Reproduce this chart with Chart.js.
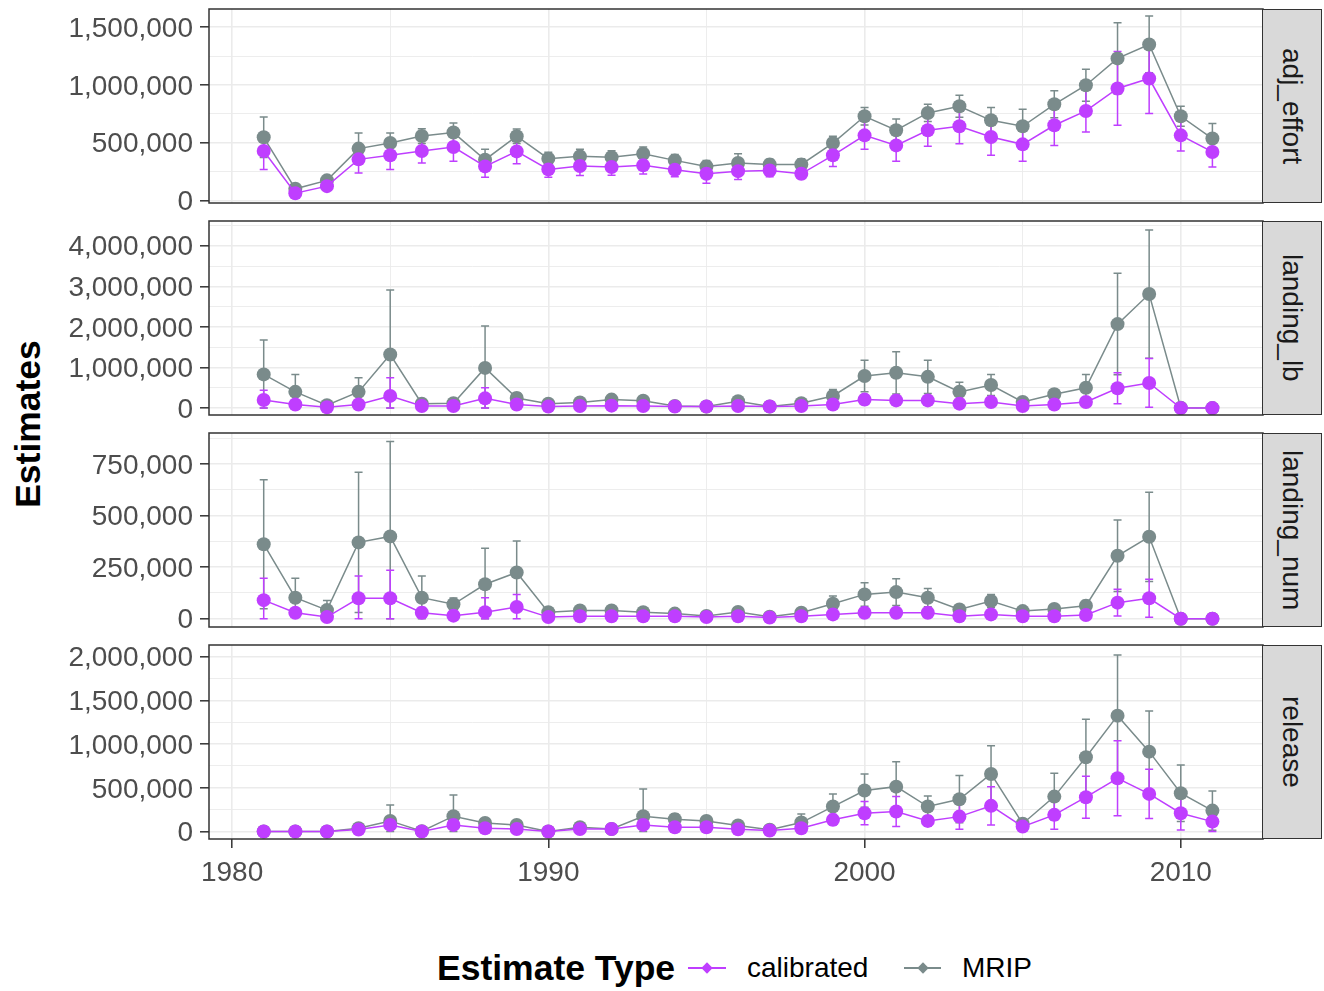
<!DOCTYPE html>
<html>
<head>
<meta charset="utf-8">
<script src="https://cdn.jsdelivr.net/npm/chart.js@4.4.1/dist/chart.umd.min.js"></script>
<style>
  body { margin: 0; background: #fff; font-family: "Liberation Sans", Arial, sans-serif; }
  #wrap { position: relative; width: 1324px; height: 991px; overflow: hidden; background: #fff; }
  canvas.panel { position: absolute; left: 0; }
  .strip { position: absolute; left: 1262px; width: 60px; box-sizing: border-box; background: #d9d9d9;
           border: 1.5px solid #333; display: flex; align-items: center; justify-content: center; }
  .strip span { writing-mode: vertical-rl; font-size: 28px; color: #1a1a1a; }
  #ytitle { position: absolute; left: 28px; top: 424px; transform: translate(-50%, -50%) rotate(-90deg);
            font-size: 35.5px; font-weight: bold; white-space: nowrap; color: #000; }
  .leg { position: absolute; top: 968px; transform: translateY(-50%); white-space: nowrap; }
  .legtitle { font-size: 35.5px; font-weight: bold; color: #000; }
  .leglabel { font-size: 28px; color: #000; }
  .key { position: absolute; top: 968px; height: 1.5px; margin-top: -1px; }
  .key i { position: absolute; left: 50%; top: 50%; width: 8px; height: 8px; margin: -4px 0 0 -4px; transform: rotate(45deg); }
</style>
</head>
<body>
<div id="wrap">
  <div id="ytitle">Estimates</div>
  <div class="leg legtitle" style="left:437px">Estimate Type</div>
  <div class="key" style="left:688px;width:38px;background:#bf3eff"><i style="background:#bf3eff"></i></div>
  <div class="leg leglabel" style="left:747px">calibrated</div>
  <div class="key" style="left:904px;width:37px;background:#7a8b8b"><i style="background:#7a8b8b"></i></div>
  <div class="leg leglabel" style="left:962px">MRIP</div>
</div>
<script>
// years on the x axis
const years = [1981, 1982, 1983, 1984, 1985, 1986, 1987, 1988, 1989, 1990, 1991, 1992, 1993, 1994, 1995, 1996,
  1997, 1998, 1999, 2000, 2001, 2002, 2003, 2004, 2005, 2006, 2007, 2008, 2009, 2010, 2011];
const xTicks = [1980, 1985, 1990, 1995, 2000, 2005, 2010];
const xLabelTicks = [1980, 1990, 2000, 2010];

//adj_effort
const effortMrip = [547000, 101000, 174000, 449000, 497000, 558000, 588000, 353000, 556000, 362000, 382000, 375000,
  405000, 347000, 295000, 324000, 312000, 312000, 497000, 729000, 608000, 758000, 816000, 694000, 642000, 833000,
  998000, 1230000, 1351000, 729000, 536000];
const effortMripErr = [175000, 15000, 20000, 135000, 87000, 64000, 83000, 90000, 63000, 55000, 61000, 55000, 58000,
  50000, 50000, 81000, 45000, 50000, 59000, 76000, 98000, 75000, 95000, 111000, 148000, 116000, 139000, 309000,
  246000, 87000, 130000];
const effortCal = [428000, 63000, 124000, 356000, 391000, 428000, 463000, 295000, 425000, 269000, 298000, 289000,
  304000, 266000, 231000, 254000, 260000, 231000, 391000, 564000, 477000, 608000, 642000, 550000, 486000, 651000,
  775000, 970000, 1056000, 564000, 420000];
const effortCalErr = [160000, 15000, 20000, 119000, 122000, 104000, 124000, 93000, 107000, 67000, 81000, 70000,
  75000, 60000, 81000, 72000, 55000, 40000, 96000, 121000, 138000, 139000, 150000, 159000, 147000, 174000, 182000,
  319000, 303000, 136000, 131000];
const effortTicks = [0, 500000, 1000000, 1500000];
const effortMinor = [250000, 750000, 1250000];

//landing_lb
const lbMrip = [830000, 400000, 70000, 400000, 1320000, 110000, 120000, 990000, 250000, 110000, 140000, 210000,
  180000, 50000, 40000, 170000, 40000, 120000, 300000, 790000, 870000, 770000, 400000, 570000, 150000, 340000,
  500000, 2070000, 2810000, 10000, 0];
const lbMripErr = [850000, 430000, 50000, 350000, 1590000, 80000, 80000, 1030000, 120000, 60000, 100000, 100000,
  80000, 30000, 30000, 100000, 30000, 70000, 160000, 390000, 520000, 410000, 240000, 260000, 100000, 120000,
  330000, 1250000, 1580000, 0, 0];
const lbCal = [200000, 90000, 20000, 90000, 300000, 50000, 50000, 240000, 90000, 40000, 50000, 60000, 50000, 40000,
  40000, 50000, 40000, 50000, 90000, 210000, 190000, 190000, 110000, 150000, 50000, 90000, 150000, 490000, 620000,
  0, 0];
const lbCalErr = [240000, 70000, 20000, 80000, 450000, 30000, 30000, 260000, 60000, 20000, 30000, 30000, 30000,
  20000, 20000, 30000, 20000, 30000, 50000, 120000, 100000, 100000, 60000, 80000, 30000, 50000, 100000, 380000,
  600000, 0, 0];
const lbTicks = [0, 1000000, 2000000, 3000000, 4000000];
const lbMinor = [500000, 1500000, 2500000, 3500000, 4500000];

//landing_num
const numMrip = [361000, 102000, 42000, 370000, 399000, 102000, 70000, 167000, 224000, 32000, 40000, 40000, 32000,
  25000, 13000, 33000, 10000, 29000, 73000, 118000, 129000, 102000, 45000, 86000, 37000, 47000, 63000, 305000,
  397000, 0, 0];
const numMripErr = [312000, 94000, 47000, 340000, 460000, 105000, 30000, 175000, 153000, 20000, 20000, 15000, 15000,
  12000, 8000, 15000, 6000, 12000, 37000, 57000, 65000, 44000, 15000, 32000, 15000, 18000, 25000, 173000, 216000,
  0, 0];
const numCal = [90000, 29000, 8000, 99000, 99000, 29000, 15000, 32000, 57000, 8000, 12000, 12000, 12000, 12000, 8000,
  12000, 6000, 12000, 21000, 29000, 29000, 29000, 12000, 21000, 12000, 12000, 18000, 78000, 99000, 0, 0];
const numCalErr = [106000, 20000, 8000, 108000, 136000, 25000, 12000, 70000, 61000, 8000, 8000, 8000, 8000, 8000,
  6000, 8000, 5000, 8000, 12000, 18000, 18000, 18000, 8000, 12000, 8000, 8000, 10000, 65000, 92000, 0, 0];
const numTicks = [0, 250000, 500000, 750000];
const numMinor = [125000, 375000, 625000, 875000];

//release
const relMrip = [0, 0, 0, 38000, 122000, 5000, 176000, 99000, 76000, 0, 50000, 30000, 176000, 142000, 122000, 69000,
  20000, 103000, 286000, 469000, 514000, 286000, 370000, 659000, 90000, 400000, 850000, 1326000, 914000, 438000,
  240000];
const relMripErr = [0, 0, 0, 15000, 183000, 5000, 243000, 40000, 30000, 0, 20000, 15000, 312000, 60000, 50000, 30000,
  15000, 99000, 145000, 190000, 286000, 122000, 270000, 324000, 50000, 267000, 434000, 693000, 465000, 324000,
  225000];
const relCal = [0, 0, 0, 23000, 76000, 0, 76000, 38000, 30000, 0, 30000, 30000, 76000, 50000, 50000, 27000, 12000,
  38000, 134000, 210000, 229000, 122000, 171000, 294000, 57000, 191000, 393000, 610000, 431000, 210000, 114000];
const relCalErr = [0, 0, 0, 10000, 40000, 0, 40000, 20000, 15000, 0, 15000, 12000, 40000, 25000, 25000, 15000, 8000,
  20000, 60000, 133000, 171000, 60000, 144000, 220000, 30000, 164000, 240000, 430000, 282000, 191000, 114000];
const relTicks = [0, 500000, 1000000, 1500000, 2000000];
const relMinor = [250000, 750000, 1250000, 1750000];

const CAL_COLOR = "#bf3eff";
const MRIP_COLOR = "#7a8b8b";

const panels = [
  { name: "adj_effort", mrip: effortMrip, mripErr: effortMripErr, cal: effortCal, calErr: effortCalErr,
    ticks: effortTicks, minor: effortMinor, min: -22000, max: 1658000 },
  { name: "landing_lb", mrip: lbMrip, mripErr: lbMripErr, cal: lbCal, calErr: lbCalErr,
    ticks: lbTicks, minor: lbMinor, min: -170000, max: 4610000 },
  { name: "landing_num", mrip: numMrip, mripErr: numMripErr, cal: numCal, calErr: numCalErr,
    ticks: numTicks, minor: numMinor, min: -40000, max: 900000 },
  { name: "release", mrip: relMrip, mripErr: relMripErr, cal: relCal, calErr: relCalErr,
    ticks: relTicks, minor: relMinor, min: -85000, max: 2134000 },
];

const panelTops = [9, 221, 433, 645];
const PANEL_H = 194;
const AXIS_W = 209;
const STRIP_W = 61;

//error bars under the points and a border round each panel
const facetPlugin = {
  id: "facet",
  beforeDatasetsDraw(chart) {
    const { ctx, scales: { x, y } } = chart;
    ctx.save();
    [1, 0].forEach((di) => {
      const ds = chart.data.datasets[di];
      ctx.strokeStyle = ds.borderColor;
      ctx.lineWidth = 1.5;
      ds.data.forEach((pt, k) => {
        const e = ds.errors[k];
        if (!e) return;
        const px = x.getPixelForValue(pt.x);
        const yLo = y.getPixelForValue(Math.max(0, pt.y - e));
        const yHi = y.getPixelForValue(pt.y + e);
        ctx.beginPath();
        ctx.moveTo(px, yLo); ctx.lineTo(px, yHi);
        ctx.moveTo(px - 4, yLo); ctx.lineTo(px + 4, yLo);
        ctx.moveTo(px - 4, yHi); ctx.lineTo(px + 4, yHi);
        ctx.stroke();
      });
    });
    ctx.restore();
  },
  afterDraw(chart) {
    const { ctx, chartArea: a } = chart;
    ctx.save();
    ctx.strokeStyle = "#333333";
    ctx.lineWidth = 1.5;
    ctx.strokeRect(a.left, a.top, a.right - a.left, a.bottom - a.top);
    ctx.restore();
  },
};

const fmt = (v) => v.toLocaleString("en-US");

function makePanel(p, i) {
  const isLast = i === panels.length - 1;
  const padTop = 30;
  const padBottom = isLast ? 10 : 30;
  const xHeight = isLast ? 54 : 0;

  const canvas = document.createElement("canvas");
  canvas.className = "panel";
  canvas.width = 1324;
  canvas.height = padTop + PANEL_H + xHeight + padBottom;
  canvas.style.top = (panelTops[i] - padTop) + "px";
  document.getElementById("wrap").appendChild(canvas);

  const strip = document.createElement("div");
  strip.className = "strip";
  strip.style.top = panelTops[i] + "px";
  strip.style.height = PANEL_H + "px";
  strip.innerHTML = "<span>" + p.name + "</span>";
  document.getElementById("wrap").appendChild(strip);

  const yAll = p.ticks.concat(p.minor).sort((a, b) => a - b);
  const isMajorY = (v) => p.ticks.includes(v);
  const isMajorX = (v) => xLabelTicks.includes(v);

  new Chart(canvas, {
    type: "line",
    data: {
      datasets: [
        {
          label: "calibrated",
          data: years.map((yr, k) => ({ x: yr, y: p.cal[k] })),
          errors: p.calErr,
          borderColor: CAL_COLOR,
          backgroundColor: CAL_COLOR,
          pointBackgroundColor: CAL_COLOR,
          pointBorderWidth: 0,
          pointRadius: 7,
          borderWidth: 1.5,
        },
        {
          label: "MRIP",
          data: years.map((yr, k) => ({ x: yr, y: p.mrip[k] })),
          errors: p.mripErr,
          borderColor: MRIP_COLOR,
          backgroundColor: MRIP_COLOR,
          pointBackgroundColor: MRIP_COLOR,
          pointBorderWidth: 0,
          pointRadius: 7,
          borderWidth: 1.5,
        },
      ],
    },
    options: {
      responsive: false,
      animation: false,
      devicePixelRatio: 1,
      events: [],
      layout: { padding: { top: padTop, bottom: padBottom, left: 0, right: STRIP_W } },
      plugins: { legend: { display: false }, tooltip: { enabled: false } },
      scales: {
        x: {
          type: "linear",
          min: 1979.27,
          max: 2012.6,
          afterBuildTicks: (axis) => { axis.ticks = xTicks.map((v) => ({ value: v })); },
          afterFit: (axis) => { axis.height = xHeight; },
          border: { display: false },
          grid: {
            color: "#ebebeb",
            lineWidth: (c) => (c.tick && isMajorX(c.tick.value) ? 1.6 : 0.9),
            drawTicks: isLast,
            tickLength: 9,
            tickWidth: 1.5,
            tickColor: (c) => (c.tick && isMajorX(c.tick.value) ? "#333333" : "rgba(0,0,0,0)"),
          },
          ticks: {
            display: isLast,
            autoSkip: false,
            maxRotation: 0,
            padding: 8,
            color: "#4d4d4d",
            font: { family: "'Liberation Sans', Arial, sans-serif", size: 28 },
            callback: (v) => (isMajorX(v) ? String(v) : ""),
          },
        },
        y: {
          type: "linear",
          min: p.min,
          max: p.max,
          afterBuildTicks: (axis) => { axis.ticks = yAll.map((v) => ({ value: v })); },
          afterFit: (axis) => { axis.width = AXIS_W; },
          border: { display: false },
          grid: {
            color: "#ebebeb",
            lineWidth: (c) => (c.tick && isMajorY(c.tick.value) ? 1.6 : 0.9),
            tickLength: 9,
            tickWidth: 1.5,
            tickColor: (c) => (c.tick && isMajorY(c.tick.value) ? "#333333" : "rgba(0,0,0,0)"),
          },
          ticks: {
            autoSkip: false,
            padding: 7,
            labelOffset: 2,
            color: "#4d4d4d",
            font: { family: "'Liberation Sans', Arial, sans-serif", size: 28 },
            callback: (v) => (isMajorY(v) ? fmt(v) : ""),
          },
        },
      },
    },
    plugins: [facetPlugin],
  });
}

panels.forEach(makePanel);
</script>
</body>
</html>
